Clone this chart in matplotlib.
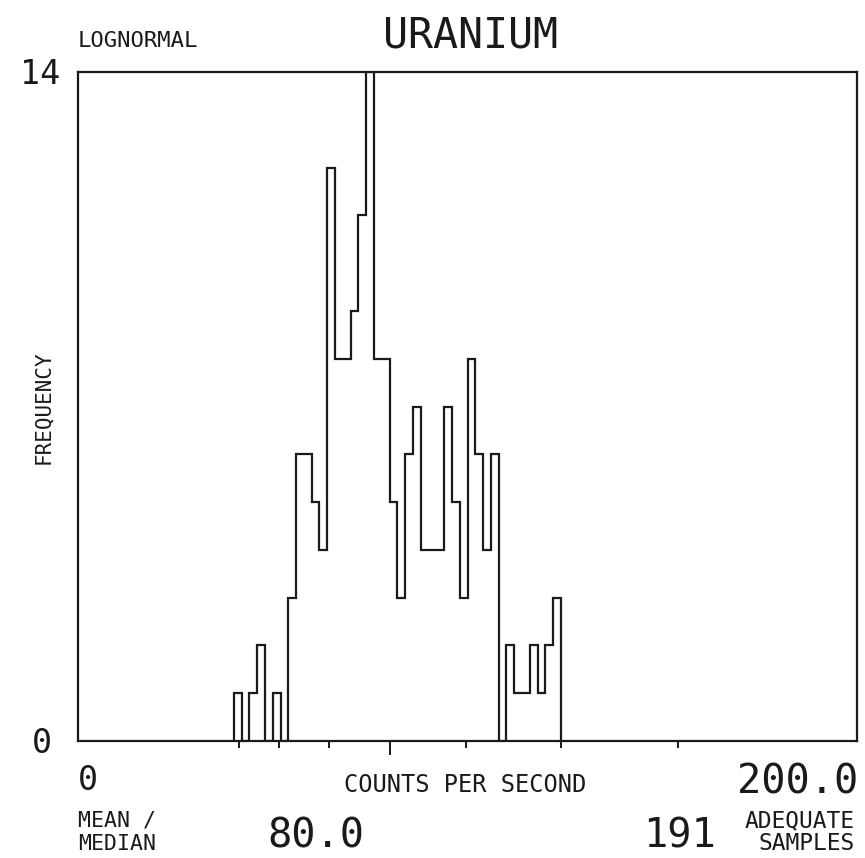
import numpy as np
import matplotlib.pyplot as plt

# histogram of uranium counts, bins of 2 cps starting at 40
bin_start = 40
bin_width = 2
counts = [1, 0, 1, 2, 0, 1, 0, 3, 6, 6, 5, 4, 12, 8, 8, 9, 11, 14, 8, 8, 5,
          3, 6, 7, 4, 4, 4, 7, 5, 3, 8, 6, 4, 6, 0, 2, 1, 1, 2, 1, 2, 3]
tick_values = [41.3, 51.6, 64.5, 80.0, 99.6, 124.0, 154.0]
median = 80.0
n_samples = 191
x_max = 200.0
y_max = 14

edges = bin_start + bin_width * np.arange(len(counts) + 1)

W, H = 865, 858
plt.rcParams['font.family'] = ['DejaVu Sans Mono']
ink = '#1a1a1a'

fig = plt.figure(figsize=(W / 100, H / 100), dpi=100)
ax = fig.add_axes([78 / W, 1 - 741 / H, (857 - 78) / W, (741 - 72) / H])

ax.stairs(counts, edges, baseline=0, color=ink, lw=1.6)
ax.set_xlim(0, x_max)
ax.set_ylim(0, y_max)

minor = [t for t in tick_values if t != median]
ax.set_xticks([median])
ax.set_xticks(minor, minor=True)
ax.set_xticklabels([])
ax.tick_params(axis='x', which='major', length=10, width=1.4, color=ink, direction='out')
ax.tick_params(axis='x', which='minor', length=5, width=1.4, color=ink, direction='out')
ax.set_yticks([])
for s in ax.spines.values():
    s.set_linewidth(1.6)
    s.set_color(ink)


def ftext(x, y, s, size, ha='left'):
    # place text by pixel position (from top-left), y is the baseline
    fig.text(x / W, 1 - y / H, s, fontsize=size, ha=ha, va='baseline', color=ink)


ftext(78, 47, 'LOGNORMAL', 16)
ftext(471, 48, 'URANIUM', 30, ha='center')
ftext(60, 84, str(y_max), 24, ha='right')
ftext(52, 753, '0', 24, ha='right')
ftext(78, 790, '0', 24)
ftext(465, 792, 'COUNTS PER SECOND', 17, ha='center')
ftext(858, 793, '%.1f' % x_max, 29, ha='right')
ftext(78, 827, 'MEAN /', 15.5)
ftext(78, 850, 'MEDIAN', 15.5)
ftext(316, 848, '%.1f' % median, 29, ha='center')
ftext(716, 847, str(n_samples), 29, ha='right')
ftext(855, 827, 'ADEQUATE', 16.5, ha='right')
ftext(855, 850, 'SAMPLES', 16.5, ha='right')
fig.text(43 / W, 1 - 407 / H, 'FREQUENCY', fontsize=15, rotation=90,
         ha='center', va='center', color=ink)

fig.savefig('out.png', dpi=100, facecolor='white')
